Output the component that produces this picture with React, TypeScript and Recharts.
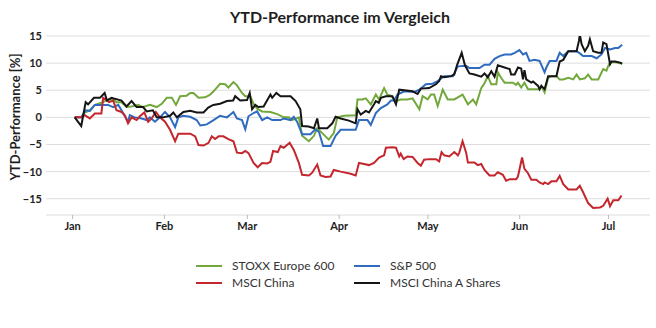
import React from 'react';
import { LineChart, Line, XAxis, YAxis, CartesianGrid, Label } from 'recharts';

// x = day of year (0 = 1 Jan), y = YTD performance in %
const monthTicks = [0, 31, 59, 90, 120, 151, 181];
const monthLabels = ['Jan', 'Feb', 'Mar', 'Apr', 'May', 'Jun', 'Jul'];
const yTicks = [-15, -10, -5, 0, 5, 10, 15];

const seriesNames = ['STOXX Europe 600', 'S&P 500', 'MSCI China', 'MSCI China A Shares'];
const seriesColors = ['#72a83c', '#2f6cc0', '#c4262e', '#151515'];

const stoxx600: [number, number][] = [
  [0.7, 0], [2.9, 0], [4.1, 0.9], [5.8, 1.3], [7.5, 2.3], [10.3, 2.8], [12.0, 3.3], [13.7, 3.3], [14.8, 2.8],
  [16.5, 2.8], [18.2, 1.9], [19.9, 2.0], [22.1, 2.3], [23.8, 1.9], [26.1, 2.3], [28.4, 1.9], [30.1, 2.5],
  [31.8, 3.6], [33.5, 3.6], [34.9, 2.3], [36.3, 3.9], [38.5, 4.0], [39.7, 4.5], [40.8, 4.5], [42.5, 3.6],
  [44.7, 3.7], [46.2, 4.1], [47.6, 4.8], [49.8, 6.2], [51.5, 6.1], [52.6, 5.5], [54.3, 6.5], [55.5, 5.9],
  [57.2, 4.5], [58.3, 3.9], [60.0, 3.9], [61.1, 2.5], [62.3, 1.6], [64.0, 1.1], [66.8, 1.0], [69.1, 0.6],
  [71.3, 0], [73.0, 0], [74.1, -0.5], [76.4, 0], [77.5, -3.4], [79.8, -4.4], [81.5, -3.4], [82.6, -2.0],
  [84.3, -2.9], [86.5, -4.1], [88.2, -2.9], [89.4, 0], [91.6, 0.3], [95.6, 0.4], [96.2, 3.3], [97.9, 3.3],
  [99.0, 3.5], [100.7, 2.4], [102.4, 4.2], [103.5, 3.3], [105.2, 5.4], [106.3, 4.2], [107.5, 4.0],
  [109.2, 3.0], [110.8, 3.3], [113.1, 3.3], [114.8, 3.5], [117.1, 1.5], [118.2, 3.9], [119.9, 3.3],
  [121.0, 4.2], [122.1, 4.2], [123.3, 2.1], [125.0, 5.1], [126.7, 3.3], [128.9, 3.3], [131.7, 4.2],
  [133.5, 2.4], [135.2, 3.3], [136.3, 2.4], [138.0, 5.4], [139.1, 6.3], [140.2, 7.6], [141.4, 6.1],
  [143.1, 6.1], [143.6, 8.3], [144.7, 7.3], [145.9, 6.4], [148.7, 6.4], [149.8, 6.0], [150.4, 6.4],
  [151.5, 5.5], [152.6, 6.4], [153.8, 5.2], [155.5, 5.2], [157.7, 5.2], [158.3, 5.8], [159.4, 4.6],
  [160.6, 7.3], [161.7, 7.6], [163.4, 7.6], [164.5, 7.0], [165.7, 7.0], [167.4, 7.3], [169.1, 7.0],
  [170.2, 7.9], [171.3, 7.0], [173.0, 7.2], [174.1, 7.9], [175.3, 7.0], [177.5, 7.0], [179.2, 8.9],
  [180.3, 8.6], [180.9, 9.5], [181.5, 10.1], [183.2, 10.2], [185.6, 9.9],
];

const sp500: [number, number][] = [
  [0.7, 0], [2.9, 0], [4.4, 1.3], [5.8, 1.2], [7.5, 2.3], [12.0, 2.3], [13.7, 1.9], [15.4, 2.3], [16.5, 1.3],
  [18.7, -0.8], [19.3, 0.4], [21.0, 0], [23.3, -0.2], [25.0, -0.5], [26.1, 0], [27.8, -0.8], [29.5, 0],
  [31.2, 1.0], [32.9, 0], [34.6, -1.8], [35.7, 0], [37.3, 0.3], [39.7, 0.1], [41.9, -0.5], [43.1, -1.5],
  [44.2, -1.4], [45.3, -1.3], [47.6, -0.5], [49.8, 0.3], [52.1, 0], [53.2, 0.5], [54.3, 1.0], [55.5, -0.2],
  [57.2, -0.5], [58.3, -2.2], [59.4, 0.2], [61.1, 0.8], [62.3, 1.1], [64.0, -0.5], [65.7, 0], [67.4, -0.5],
  [70.2, -0.5], [71.3, -0.2], [73.6, -0.5], [74.7, 0.1], [75.8, -0.8], [77.5, -3.1], [80.3, -3.1],
  [82.0, -2.2], [83.2, -2.7], [84.6, -5.3], [87.1, -5.3], [88.8, -3.4], [90.5, -2.3], [95.6, -2.3],
  [96.7, -0.5], [99.6, -0.5], [100.7, -1.4], [102.4, 0.8], [104.1, 1.7], [106.3, 2.4], [107.5, 3.1],
  [108.6, 3.1], [109.7, 4.2], [112.0, 4.8], [115.4, 4.7], [117.1, 5.1], [119.3, 6.1], [121.6, 6.2],
  [123.3, 6.7], [125.5, 7.6], [128.4, 7.6], [130.1, 9.4], [132.9, 9.5], [134.0, 9.1], [137.4, 9.1],
  [139.1, 9.7], [140.8, 9.7], [142.5, 10.8], [144.2, 11.3], [145.9, 11.6], [148.1, 11.6], [149.3, 11.9],
  [150.9, 12.4], [152.1, 11.6], [153.2, 11.9], [154.3, 10.4], [156.0, 10.6], [157.7, 10.4], [159.4, 8.3],
  [160.0, 9.2], [161.1, 10.4], [163.4, 10.4], [164.5, 11.9], [165.7, 11.3], [167.4, 12.2], [170.2, 12.2],
  [171.3, 11.8], [172.4, 11.3], [175.3, 11.3], [177.0, 10.9], [178.6, 11.6], [179.8, 12.8], [181.5, 12.5],
  [183.2, 12.8], [184.3, 12.8], [185.6, 13.4],
];

const msciChina: [number, number][] = [
  [0.7, 0], [2.9, 0], [4.1, 0.4], [5.8, -0.2], [7.5, 0.7], [9.7, 0.7], [10.3, 3.6], [11.4, 3.2], [12.3, 2.8],
  [13.7, 3.1], [14.8, 1.3], [16.5, 1.0], [17.6, 0.4], [18.7, -1.1], [19.9, 0], [21.6, -0.5], [22.7, 0.2],
  [24.2, 0.9], [25.5, -0.8], [26.7, -0.2], [28.1, 1.0], [29.5, 0], [31.2, -0.8], [32.9, -2.3], [34.6, -4.4],
  [35.7, -3.0], [37.4, -3.0], [39.7, -3.0], [41.4, -3.5], [42.5, -5.1], [44.2, -5.2], [45.9, -4.7],
  [47.0, -3.5], [48.1, -4.0], [49.3, -3.5], [50.9, -3.5], [52.6, -4.0], [54.3, -4.4], [55.5, -6.5],
  [57.2, -6.6], [58.3, -6.2], [59.4, -6.6], [61.1, -8.4], [62.5, -9.2], [64.0, -8.4], [65.7, -8.5],
  [66.8, -8.2], [67.7, -6.2], [69.3, -6.4], [70.2, -5.3], [71.3, -5.6], [72.4, -5.1], [73.3, -4.7],
  [74.7, -6.0], [76.4, -8.4], [77.5, -10.6], [79.8, -10.7], [80.9, -10.2], [82.6, -8.7], [83.7, -10.7],
  [85.4, -11.0], [87.1, -10.9], [88.2, -9.7], [90.5, -10.0], [93.9, -10.4], [95.6, -10.7], [96.7, -8.4],
  [98.4, -8.6], [100.1, -8.8], [101.8, -8.4], [103.5, -7.4], [105.2, -7.0], [105.8, -5.6], [108.0, -5.5],
  [109.2, -5.6], [110.3, -7.2], [110.8, -6.7], [111.8, -7.7], [113.1, -7.2], [114.8, -7.3], [116.5, -8.4],
  [117.6, -8.9], [118.7, -7.8], [120.4, -7.7], [122.7, -7.7], [123.8, -8.1], [124.6, -6.4], [125.5, -7.0],
  [127.2, -7.2], [128.9, -6.4], [130.1, -7.0], [130.6, -6.5], [131.7, -4.4], [132.9, -6.5], [133.5, -8.3],
  [135.7, -8.3], [136.8, -8.8], [138.0, -8.6], [139.1, -9.7], [140.8, -10.7], [142.5, -10.7], [143.6, -10.1],
  [145.3, -10.6], [146.4, -11.7], [147.6, -11.4], [149.8, -11.4], [150.4, -10.9], [151.8, -7.4],
  [152.6, -9.5], [153.8, -10.3], [154.9, -11.5], [156.6, -11.5], [157.7, -12.0], [158.9, -12.3],
  [159.4, -12.0], [160.6, -12.3], [161.7, -11.8], [163.4, -11.8], [164.5, -10.8], [165.7, -12.3],
  [167.4, -13.3], [170.2, -13.3], [171.3, -12.6], [172.4, -13.8], [174.1, -15.8], [175.8, -16.7],
  [178.1, -16.6], [179.2, -16.3], [180.7, -15.0], [181.5, -16.4], [182.6, -15.3], [184.3, -15.3],
  [185.4, -14.4],
];

const msciChinaA: [number, number][] = [
  [0.7, 0], [2.9, -1.6], [4.4, 2.8], [5.2, 2.4], [7.2, 3.6], [9.2, 3.6], [10.8, 4.5], [11.6, 3.1], [13.1, 3.6],
  [16.5, 3.1], [18.2, 2.0], [19.9, 3.0], [21.6, 1.9], [23.8, 1.9], [25.0, 1.1], [27.1, 1.3], [28.4, 0],
  [30.6, 0], [32.9, 0.3], [34.0, 0.9], [35.2, 0], [37.4, 1.0], [39.7, 1.2], [41.9, 0.9], [44.2, 0.9],
  [45.8, 1.8], [47.5, 2.3], [49.8, 2.5], [52.1, 3.0], [54.2, 3.1], [54.9, 3.9], [56.6, 3.1], [58.9, 3.2],
  [59.8, 4.5], [60.6, 1.5], [61.7, 2.3], [62.7, 1.9], [64.5, 2.0], [66.8, 4.2], [67.4, 3.6], [68.8, 4.5],
  [70.2, 3.9], [73.6, 3.9], [75.3, 3.0], [76.9, 1.5], [77.5, -1.6], [79.7, -1.7], [81.5, -2.0], [82.6, -0.2],
  [83.2, -2.0], [86.0, -2.0], [87.7, -1.1], [88.8, 0.1], [90.5, -0.2], [93.3, -0.6], [95.6, -1.1],
  [96.2, 1.5], [97.3, 0.5], [99.0, 1.2], [100.1, 0.9], [101.8, 2.4], [102.4, 3.0], [103.4, 2.7], [104.1, 3.6],
  [105.8, 3.9], [108.0, 3.9], [109.2, 2.4], [110.3, 5.1], [112.0, 5.0], [114.8, 4.8], [116.5, 4.3],
  [117.6, 5.3], [120.4, 5.4], [122.7, 6.1], [123.8, 6.7], [124.4, 7.6], [125.5, 7.4], [127.8, 7.6],
  [128.9, 7.9], [129.8, 9.6], [131.4, 11.9], [132.5, 9.6], [134.0, 8.1], [135.7, 7.9], [138.0, 7.5],
  [139.1, 8.1], [140.2, 7.4], [141.4, 8.5], [142.5, 7.5], [143.6, 9.6], [145.9, 9.2], [147.6, 8.9],
  [148.1, 7.9], [149.3, 7.9], [150.4, 9.2], [151.5, 9.0], [152.1, 7.0], [152.6, 8.7], [153.2, 7.0],
  [154.9, 6.4], [155.5, 6.6], [157.2, 5.8], [157.7, 5.2], [158.3, 5.8], [159.4, 5.2], [160.6, 7.6],
  [161.7, 7.6], [163.4, 7.6], [164.5, 10.3], [165.7, 10.6], [167.4, 12.2], [170.2, 12.2], [171.0, 14.1],
  [171.3, 15.3], [171.9, 13.5], [173.0, 12.2], [174.1, 13.2], [174.7, 14.4], [175.8, 12.2], [177.5, 11.9],
  [178.6, 11.9], [179.2, 13.8], [180.3, 13.5], [181.5, 9.8], [182.0, 10.3], [183.2, 10.3], [184.9, 10.1],
  [185.6, 9.9],
];

const allSeries = [stoxx600, sp500, msciChina, msciChinaA];
const toRows = (s: [number, number][]) => s.map(([d, v]) => ({ d, v }));

const FONT = 'Lato, "Open Sans", sans-serif';

const fmtY = (v: number) => (v < 0 ? '\u2212' + Math.abs(v) : String(v));
const fmtX = (d: number) => monthLabels[monthTicks.indexOf(d)] ?? '';

const YLabel = () => (
  <text
    x={15}
    y={117}
    transform="rotate(-90 15 117)"
    textAnchor="middle"
    dominantBaseline="central"
    fontFamily={FONT}
    fontSize={13}
    fontWeight={700}
    fill="#1e1e1e"
  >
    YTD-Performance [%]
  </text>
);

const legendOrder = [[0, 1], [2, 3]];

export default function App() {
  return (
    <div style={{ position: 'absolute', left: 0, top: 0, width: 656, height: 328, background: '#fff', fontFamily: FONT }}>
      <div
        style={{
          position: 'absolute',
          top: 6,
          left: 12,
          width: 656,
          textAlign: 'center',
          fontSize: 16,
          fontWeight: 700,
          color: '#1e1e1e',
          lineHeight: '22px',
        }}
      >
        YTD-Performance im Vergleich
      </div>
      <LineChart width={656} height={328} margin={{ top: 36, right: 6, bottom: 83, left: 0 }}>
        <CartesianGrid vertical={false} stroke="#dddddd" />
        <XAxis
          type="number"
          dataKey="d"
          domain={[-9, 195]}
          ticks={monthTicks}
          tickFormatter={fmtX}
          axisLine={false}
          tickLine={{ stroke: '#bbbbbb' }}
          tickSize={4}
          tickMargin={3}
          height={30}
          tick={{ fontSize: 11, fontWeight: 700, fill: '#1e1e1e', fontFamily: FONT }}
          allowDataOverflow
        />
        <YAxis
          type="number"
          domain={[-18, 15]}
          ticks={yTicks}
          tickFormatter={fmtY}
          width={46}
          axisLine={false}
          tickLine={false}
          tickSize={0}
          tickMargin={4}
          tick={{ fontSize: 11, fontWeight: 700, fill: '#1e1e1e', fontFamily: FONT }}
          allowDataOverflow
        >
          <Label content={<YLabel />} />
        </YAxis>
        {allSeries.map((s, i) => (
          <Line
            key={seriesNames[i]}
            data={toRows(s)}
            dataKey="v"
            name={seriesNames[i]}
            type="linear"
            stroke={seriesColors[i]}
            strokeWidth={2}
            dot={false}
            activeDot={false}
            isAnimationActive={false}
          />
        ))}
      </LineChart>
      {legendOrder.map((row, r) =>
        row.map((idx, c) => (
          <div
            key={idx}
            style={{
              position: 'absolute',
              left: c === 0 ? 196 : 354,
              top: 257 + r * 17,
              height: 17,
              display: 'flex',
              alignItems: 'center',
              fontSize: 12,
              color: '#333',
              whiteSpace: 'nowrap',
            }}
          >
            <svg width={36} height={4}>
              <line x1={0} y1={2} x2={26} y2={2} stroke={seriesColors[idx]} strokeWidth={2} />
            </svg>
            <span>{seriesNames[idx]}</span>
          </div>
        ))
      )}
    </div>
  );
}
